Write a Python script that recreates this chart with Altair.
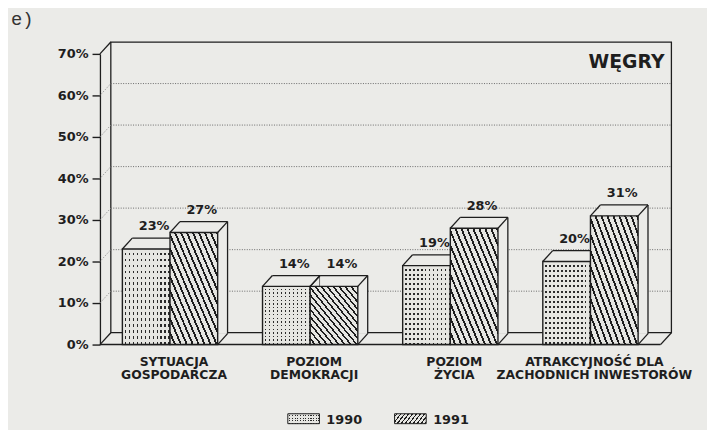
import altair as alt
import pandas as pd

# ---- data ----
categories = ["SYTUACJA\nGOSPODARCZA", "POZIOM\nDEMOKRACJI", "POZIOM\nŻYCIA",
              "ATRAKCYJNOŚĆ DLA\nZACHODNICH INWESTORÓW"]
years = ["1990", "1991"]
values_1990 = [23, 14, 19, 20]
values_1991 = [27, 14, 28, 31]
y_ticks = [0, 10, 20, 30, 40, 50, 60, 70]
country = "WĘGRY"
panel = "e)"

# ---- styling ----
BG = "#ebebe8"
LIGHT = "#e6e6e2"
INK = "#1e1e1e"
BAR_W = 0.34
DX, DY = 10, -11   # depth of the bars (px)
WX, WY = 11, -12   # depth of the walls (px)
BOLD = "DejaVu Sans"

xs = alt.Scale(domain=[-0.5, 3.5], nice=False, zero=False)
ys = alt.Scale(domain=[0, 70], nice=False, zero=False)

yaxis = alt.Axis(values=y_ticks, labelExpr="datum.value + '%'", tickSize=8, tickColor=INK,
                 tickWidth=1.4, domain=True, domainColor=INK, domainWidth=1.3, grid=False,
                 labelFont=BOLD, labelFontWeight="bold", labelFontSize=13, labelColor=INK,
                 labelPadding=4, title=None)


def stripes(n, dark, light, frac, x1, y1, x2, y2):
    stops = []
    for k in range(n):
        a = k / n
        b = (k + 1 - frac) / n
        c = (k + 1) / n
        stops += [{"offset": a, "color": light}, {"offset": b, "color": light},
                  {"offset": b, "color": dark}, {"offset": c, "color": dark}]
    return {"gradient": "linear", "x1": x1, "y1": y1, "x2": x2, "y2": y2, "stops": stops}


HATCH = stripes(16, INK, LIGHT, 0.33, 0, 1, 1, 0)
DOTS_V = stripes(12, "#2a2a2a", LIGHT, 0.4, 0, 0, 1, 0)
DOTS_H = stripes(16, "rgba(0,0,0,0)", LIGHT, 0.4, 0, 0, 0, 1)


def bar_frame(vals, j):
    n = len(vals)
    return pd.DataFrame({
        "cat": list(range(n)),
        "value": vals,
        "zero": [0] * n,
        "x0": [i - BAR_W + j * BAR_W for i in range(n)],
        "x1": [i + j * BAR_W for i in range(n)],
        "xc": [i - BAR_W / 2 + j * BAR_W for i in range(n)],
        "label": [f"{v}%" for v in vals],
    })


df90 = bar_frame(values_1990, 0)
df91 = bar_frame(values_1991, 1)
df_cat = pd.DataFrame({"cat": list(range(len(categories))), "name": categories, "zero": 0})
df_grid = pd.DataFrame({"t": y_ticks[1:-1]})
df_ends = pd.DataFrame({"t": [y_ticks[0], y_ticks[-1]]})
one = pd.DataFrame({"a": [0]})


def X(f=None, datum=None):
    if datum is not None:
        return alt.X(datum=datum, scale=xs, axis=None)
    return alt.X(f, type="quantitative", scale=xs, axis=None)


def Y(f=None, datum=None):
    if datum is not None:
        return alt.Y(datum=datum, scale=ys, axis=yaxis)
    return alt.Y(f, type="quantitative", scale=ys, axis=yaxis)


# back wall
wall = alt.Chart(one).mark_rect(fill="transparent", stroke=INK, strokeWidth=1.3,
                                xOffset=WX, x2Offset=WX, yOffset=WY, y2Offset=WY).encode(
    x=X(datum=-0.5), x2=alt.X2(datum=3.5), y=Y(datum=0), y2=alt.Y2(datum=70))

grid = alt.Chart(df_grid).mark_rule(color="#6a6a6a", strokeDash=[1, 1.5], strokeWidth=1,
                                    xOffset=WX, x2Offset=WX, yOffset=WY).encode(
    x=X(datum=-0.5), x2=alt.X2(datum=3.5), y=Y("t"))

conn = alt.Chart(df_grid).mark_rule(color="#8a8a8a", strokeDash=[1, 1.5], strokeWidth=1,
                                    x2Offset=WX, y2Offset=WY).encode(
    x=X(datum=-0.5), x2=alt.X2(datum=-0.5), y=Y("t"), y2="t")

conn_ends = alt.Chart(df_ends).mark_rule(color=INK, strokeWidth=1.3,
                                         x2Offset=WX, y2Offset=WY).encode(
    x=X(datum=-0.5), x2=alt.X2(datum=-0.5), y=Y("t"), y2="t")

floor_front = alt.Chart(one).mark_rule(color=INK, strokeWidth=1.6).encode(
    x=X(datum=-0.5), x2=alt.X2(datum=3.5), y=Y(datum=0))

floor_right = alt.Chart(one).mark_rule(color=INK, strokeWidth=1.3, x2Offset=WX, y2Offset=WY).encode(
    x=X(datum=3.5), x2=alt.X2(datum=3.5), y=Y(datum=0), y2=alt.Y2(datum=0))


def bar_layers(df, fills):
    base = alt.Chart(df)
    back = base.mark_rect(fill=BG, xOffset=DX, x2Offset=DX, yOffset=DY, y2Offset=DY).encode(
        x=X("x0"), x2="x1", y=Y("value"), y2="zero")
    top_back = base.mark_rule(color=INK, strokeWidth=1.3, xOffset=DX, x2Offset=DX,
                              yOffset=DY, y2Offset=DY).encode(
        x=X("x0"), x2="x1", y=Y("value"), y2="value")
    side_back = base.mark_rule(color=INK, strokeWidth=1.3, xOffset=DX, x2Offset=DX,
                               yOffset=DY, y2Offset=DY).encode(
        x=X("x1"), x2="x1", y=Y("value"), y2="zero")
    diag_tl = base.mark_rule(color=INK, strokeWidth=1.3, x2Offset=DX, y2Offset=DY).encode(
        x=X("x0"), x2="x0", y=Y("value"), y2="value")
    diag_tr = base.mark_rule(color=INK, strokeWidth=1.3, x2Offset=DX, y2Offset=DY).encode(
        x=X("x1"), x2="x1", y=Y("value"), y2="value")
    diag_br = base.mark_rule(color=INK, strokeWidth=1.3, x2Offset=DX, y2Offset=DY).encode(
        x=X("x1"), x2="x1", y=Y("zero"), y2="zero")
    fronts = [base.mark_rect(fill=f, strokeWidth=0).encode(
        x=X("x0"), x2="x1", y=Y("value"), y2="zero") for f in fills]
    outline = base.mark_rect(fill="transparent", stroke=INK, strokeWidth=1.4).encode(
        x=X("x0"), x2="x1", y=Y("value"), y2="zero")
    labels = base.mark_text(font=BOLD, fontWeight="bold", fontSize=13, color=INK,
                            dx=8, dy=-23, baseline="middle").encode(
        x=X("xc"), y=Y("value"), text="label:N")
    return [back, top_back, side_back, diag_tl, diag_tr, diag_br] + fronts + [outline, labels]


cat_labels = alt.Chart(df_cat).mark_text(font=BOLD, fontWeight="bold", fontSize=12.5, color=INK,
                                         baseline="top", dy=12, dx=4, lineBreak="\n",
                                         lineHeight=13).encode(
    x=X("cat"), y=Y("zero"), text="name:N")

title_txt = alt.Chart(one).mark_text(font=BOLD, fontWeight="bold", fontSize=19, color=INK,
                                     align="right", baseline="middle", dx=4, dy=8).encode(
    x=X(datum=3.5), y=Y(datum=70), text=alt.value(country))

panel_txt = alt.Chart(one).mark_text(font="Liberation Mono", fontSize=19, color="#333",
                                     align="left", baseline="middle").encode(
    x=alt.value(-90), y=alt.value(-35), text=alt.value(panel))

# legend (drawn below the plot)
sw_y, sw_y2 = 364, 374
leg90 = [alt.Chart(one).mark_rect(fill=f, strokeWidth=0).encode(
    x=alt.value(190), x2=alt.value(222), y=alt.value(sw_y), y2=alt.value(sw_y2))
    for f in (DOTS_V, DOTS_H)]
leg90_o = alt.Chart(one).mark_rect(fill="transparent", stroke=INK, strokeWidth=1).encode(
    x=alt.value(190), x2=alt.value(222), y=alt.value(sw_y), y2=alt.value(sw_y2))
leg91 = alt.Chart(one).mark_rect(fill=HATCH, stroke=INK, strokeWidth=1).encode(
    x=alt.value(298), x2=alt.value(330), y=alt.value(sw_y), y2=alt.value(sw_y2))
leg_txt90 = alt.Chart(one).mark_text(font=BOLD, fontWeight="bold", fontSize=13, color=INK,
                                     align="left", baseline="middle").encode(
    x=alt.value(229), y=alt.value(370), text=alt.value(years[0]))
leg_txt91 = alt.Chart(one).mark_text(font=BOLD, fontWeight="bold", fontSize=13, color=INK,
                                     align="left", baseline="middle").encode(
    x=alt.value(337), y=alt.value(370), text=alt.value(years[1]))

layers = ([wall, grid, conn, conn_ends, floor_front, floor_right]
          + bar_layers(df90, [DOTS_V, DOTS_H])
          + bar_layers(df91, [HATCH])
          + [cat_labels, title_txt, panel_txt] + leg90 + [leg90_o, leg91, leg_txt90, leg_txt91])

chart = alt.layer(*layers).properties(
    width=567, height=294,
    autosize=alt.AutoSizeParams(type="none"),
    padding={"left": 93, "top": 44, "right": 47, "bottom": 84},
    background=BG,
).configure_view(stroke=None)

chart.save("out.html", embed_options={"renderer": "svg", "actions": False})
